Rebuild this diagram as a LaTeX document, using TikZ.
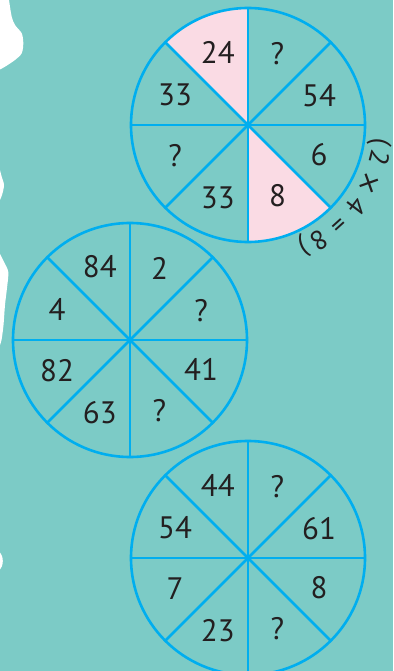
\documentclass[tikz,border=0pt]{standalone}
\usepackage{fontspec}
\setmainfont{PT Sans}
\newfontfamily\symfont{DejaVu Sans}
\usetikzlibrary{calc}
\definecolor{bg}{HTML}{7CCBC6}
\definecolor{pinkfill}{HTML}{FADBE4}
\definecolor{linecol}{HTML}{00AEEF}
\definecolor{txt}{HTML}{231F20}
\begin{document}
\begin{tikzpicture}[x=1pt,y=-1pt,
  wheel/.style={draw=linecol,line width=2.6pt},
  sector/.style={fill=pinkfill},
  num/.style={text=txt,font=\fontsize{31}{31}\selectfont,inner sep=0pt},
  rotchar/.style={text=txt,font=\fontsize{27}{27}\selectfont,inner sep=0pt,anchor=base}]
\fill[bg] (0,0) rectangle (393,671);
\useasboundingbox (0,0) rectangle (393,671);
% white torn edge on the left
\fill[white] (-1,-2) -- (9,-2) -- plot[smooth] coordinates {(9,0) (11.7,16.7) (15,25) (21.7,33.3) (23.3,43.3) (21.7,53.3) (15,60) (5,66.7) (-1,70)} -- cycle;
\fill[white] plot[smooth] coordinates {(-1,166) (1.5,176) (4,185) (2,195) (-1,202)} -- cycle;
\fill[white] plot[smooth] coordinates {(-1,252) (4,262) (8.3,272) (7,288) (5,305) (3.5,325) (1.5,340) (-1,348)} -- cycle;
\fill[white] plot[smooth] coordinates {(-1,551) (2,556) (2.8,561) (2,566) (-1,571)} -- cycle;
% centres
\coordinate (c1) at (248,125);
\coordinate (c2) at (130,340);
\coordinate (c3) at (248,558);
% pink sectors of the top wheel
\fill[sector] (c1) -- ++(225:117) arc[start angle=225,end angle=270,radius=117] -- cycle;
\fill[sector] (c1) -- ++(45:117) arc[start angle=45,end angle=90,radius=117] -- cycle;
% wheels
\foreach \c in {c1,c2,c3}{
  \draw[wheel] (\c) circle[radius=117];
  \foreach \a in {0,45,90,135}{
    \draw[wheel] (\c) ++(\a:117) -- ++(\a+180:234);
  }
}
% top wheel numbers
\node[num] (a1) at ($(c1)+(247.5:79)$) {24};
\node[num] (a2) at ($(c1)+(292.5:77)$) {?};
\node[num] (a3) at ($(c1)+(202.5:79)$) {33};
\node[num] (a4) at ($(c1)+(337.5:77)$) {54};
\node[num] (a5) at ($(c1)+(157.5:79)$) {?};
\node[num] (a6) at ($(c1)+(22.5:77)$) {6};
\node[num] (a7) at ($(c1)+(112.5:79)$) {33};
\node[num] (a8) at ($(c1)+(67.5:77)$) {8};
% middle wheel numbers
\node[num] (b1) at ($(c2)+(247.5:79)$) {84};
\node[num] (b2) at ($(c2)+(292.5:77)$) {2};
\node[num] (b3) at ($(c2)+(202.5:79)$) {4};
\node[num] (b4) at ($(c2)+(337.5:77)$) {?};
\node[num] (b5) at ($(c2)+(157.5:79)$) {82};
\node[num] (b6) at ($(c2)+(22.5:77)$) {41};
\node[num] (b7) at ($(c2)+(112.5:79)$) {63};
\node[num] (b8) at ($(c2)+(67.5:77)$) {?};
% bottom wheel numbers
\node[num] (d1) at ($(c3)+(247.5:79)$) {44};
\node[num] (d2) at ($(c3)+(292.5:77)$) {?};
\node[num] (d3) at ($(c3)+(202.5:79)$) {54};
\node[num] (d4) at ($(c3)+(337.5:77)$) {61};
\node[num] (d5) at ($(c3)+(157.5:79)$) {7};
\node[num] (d6) at ($(c3)+(22.5:77)$) {8};
\node[num] (d7) at ($(c3)+(112.5:79)$) {23};
\node[num] (d8) at ($(c3)+(67.5:77)$) {?};
% curved explanation (2 x 4 = 8)
\node[rotchar,rotate=-97.5] (e1) at ($(c1)+(7.5:126)$) {(};
\node[rotchar,rotate=-104.2] (e2) at ($(c1)+(14.2:126)$) {2};
\node[rotchar,rotate=-115.5,font=\symfont\fontsize{27}{27}\selectfont] (e3) at ($(c1)+(25.5:126)$) {×};
\node[rotchar,rotate=-126.9] (e4) at ($(c1)+(36.9:126)$) {4};
\node[rotchar,rotate=-137.9] (e5) at ($(c1)+(47.9:126)$) {=};
\node[rotchar,rotate=-148.3] (e6) at ($(c1)+(58.3:126)$) {8};
\node[rotchar,rotate=-155.5] (e7) at ($(c1)+(65.5:126)$) {)};
\end{tikzpicture}
\end{document}
